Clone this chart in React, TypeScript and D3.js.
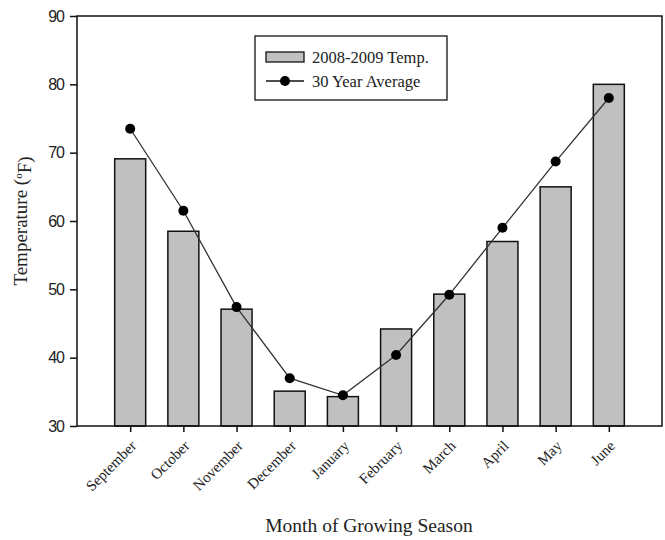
import React, { useEffect, useRef } from "react";
import * as d3 from "d3";

const months = ["September", "October", "November", "December", "January", "February", "March", "April", "May", "June"];
const seasonTemp = [69.1, 58.5, 47.1, 35.1, 34.3, 44.2, 49.3, 57, 65, 80];
const avgTemp = [73.5, 61.5, 47.4, 37.0, 34.5, 40.4, 49.2, 59, 68.7, 78];
const yTicks = [30, 40, 50, 60, 70, 80, 90];
const legendLabels = ["2008-2009 Temp.", "30 Year Average"];

const W = 665;
const H = 540;
const margin = { top: 16, right: 3, bottom: 114, left: 77 };

const App = () => {
  const ref = useRef(null);

  useEffect(() => {
    const svg = d3.select(ref.current);
    svg.html("");

    const x = d3
      .scalePoint()
      .domain(months)
      .range([margin.left, W - margin.right])
      .padding(1);
    const y = d3
      .scaleLinear()
      .domain([30, 90])
      .range([H - margin.bottom, margin.top]);
    const barW = 31;
    const serif = "'Liberation Serif', 'Times New Roman', serif";
    const sans = "'Liberation Sans', Arial, sans-serif";

    // bars
    svg
      .append("g")
      .selectAll("rect")
      .data(seasonTemp)
      .join("rect")
      .attr("x", (d, i) => x(months[i])! - barW / 2)
      .attr("y", (d) => y(d))
      .attr("width", barW)
      .attr("height", (d) => y(30) - y(d))
      .style("fill", "#c0c0c0")
      .style("stroke", "#111")
      .style("stroke-width", "1.5px");

    // average line
    const line = d3
      .line<number>()
      .x((d, i) => x(months[i])!)
      .y((d) => y(d));
    svg
      .append("path")
      .datum(avgTemp)
      .attr("d", line)
      .style("fill", "none")
      .style("stroke", "#333")
      .style("stroke-width", "1.3px");
    svg
      .append("g")
      .selectAll("circle")
      .data(avgTemp)
      .join("circle")
      .attr("cx", (d, i) => x(months[i])!)
      .attr("cy", (d) => y(d))
      .attr("r", 5)
      .style("fill", "#000");

    // frame
    svg
      .append("rect")
      .attr("x", margin.left)
      .attr("y", margin.top)
      .attr("width", W - margin.left - margin.right)
      .attr("height", y(30) - margin.top)
      .style("fill", "none")
      .style("stroke", "#111")
      .style("stroke-width", "1.5px");

    // y axis
    const yAxis = svg
      .append("g")
      .attr("transform", "translate(" + margin.left + ",0)")
      .call(d3.axisLeft(y).tickValues(yTicks).tickSize(7).tickPadding(6));
    yAxis.select(".domain").remove();
    yAxis.selectAll("line").style("stroke", "#111").style("stroke-width", "1.5px");
    yAxis
      .selectAll("text")
      .style("font-family", sans)
      .style("font-size", "16px")
      .style("fill", "#222")
      .style("letter-spacing", "-1px");

    // x axis
    const xAxis = svg
      .append("g")
      .attr("transform", "translate(0," + y(30) + ")")
      .call(d3.axisBottom(x).tickSize(6).tickSizeOuter(0));
    xAxis.select(".domain").remove();
    xAxis.selectAll("line").style("stroke", "#111").style("stroke-width", "1.5px");
    xAxis
      .selectAll("text")
      .style("font-family", serif)
      .style("font-size", "15px")
      .style("fill", "#222")
      .style("text-anchor", "end")
      .attr("dy", "0.35em")
      .attr("transform", "translate(3,17) rotate(-45)")
      .attr("y", 0)
      .attr("x", 0);

    // axis titles
    const yt = svg
      .append("text")
      .attr("transform", "translate(27," + 221 + ") rotate(-90)")
      .style("text-anchor", "middle")
      .style("font-family", serif)
      .style("font-size", "19px")
      .style("fill", "#222");
    yt.append("tspan").text("Temperature (");
    yt.append("tspan").attr("dy", "-0.45em").style("font-size", "11px").text("o");
    yt.append("tspan").attr("dy", "0.45em").text("F)");

    svg
      .append("text")
      .attr("x", 369)
      .attr("y", 532)
      .style("text-anchor", "middle")
      .style("font-family", serif)
      .style("font-size", "19.5px")
      .style("fill", "#222")
      .text("Month of Growing Season");

    // legend
    const lg = svg.append("g");
    lg.append("rect")
      .attr("x", 255)
      .attr("y", 36)
      .attr("width", 192)
      .attr("height", 64)
      .style("fill", "#fff")
      .style("stroke", "#111")
      .style("stroke-width", "1.3px");
    lg.append("rect")
      .attr("x", 266)
      .attr("y", 52)
      .attr("width", 38)
      .attr("height", 10)
      .style("fill", "#c0c0c0")
      .style("stroke", "#111")
      .style("stroke-width", "1.3px");
    lg.append("line")
      .attr("x1", 266)
      .attr("x2", 304)
      .attr("y1", 81)
      .attr("y2", 81)
      .style("stroke", "#111")
      .style("stroke-width", "1.3px");
    lg.append("circle").attr("cx", 285).attr("cy", 81).attr("r", 5).style("fill", "#000");
    lg.selectAll("text.lab")
      .data(legendLabels)
      .join("text")
      .attr("class", "lab")
      .attr("x", 312)
      .attr("y", (d, i) => 63 + i * 24)
      .style("font-family", serif)
      .style("font-size", "16.5px")
      .style("fill", "#222")
      .text((d) => d);
  }, []);

  return (
    <svg
      ref={ref}
      width={W}
      height={H}
      style={{ display: "block", position: "absolute", left: 0, top: 0 }}
    />
  );
};

export default App;
